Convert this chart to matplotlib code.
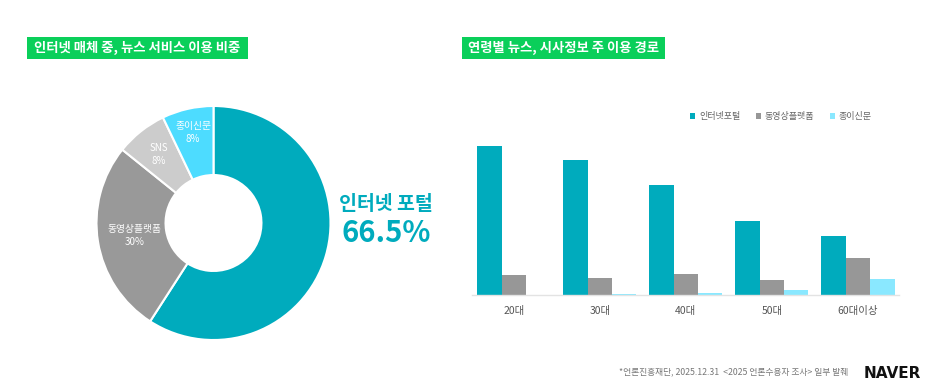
import matplotlib
matplotlib.use('Agg')
import matplotlib.pyplot as plt
import matplotlib.patches as patches
import numpy as np

plt.rcParams['font.family'] = ['Noto Sans CJK KR', 'DejaVu Sans']

# pie data
pie_labels = ['인터넷 포털', '동영상플랫폼', 'SNS', '종이신문']
pie_values = [66.5, 30, 8, 8]
pie_texts = ['', '동영상플랫폼\n30%', 'SNS\n8%', '종이신문\n8%']

# bar data
age_groups = ['20대', '30대', '40대', '50대', '60대이상']
series_names = ['인터넷포털', '동영상플랫폼', '종이신문']
portal = [74.5, 67.4, 54.9, 37.2, 29.5]
video = [10.0, 8.4, 10.5, 7.4, 18.4]
paper = [0.2, 0.3, 1.0, 2.5, 8.0]

W, H = 936, 390
fig = plt.figure(figsize=(W / 100, H / 100), dpi=100)
fig.patch.set_facecolor('white')

def fx(px):
    return px / W

def fy(py):
    return 1 - py / H

green = '#0ACF5A'
teal = '#00ABBD'

# title boxes
for x0, x1, title in [(27, 248, '인터넷 매체 중, 뉴스 서비스 이용 비중'),
                      (462, 665, '연령별 뉴스, 시사정보 주 이용 경로')]:
    fig.patches.append(patches.Rectangle((fx(x0), fy(59)), fx(x1 - x0), 22 / H,
                                         transform=fig.transFigure, facecolor=green,
                                         edgecolor='none'))
    fig.text(fx((x0 + x1) / 2), fy(48), title, ha='center', va='center',
             color='white', fontsize=9.6, fontweight='bold')

# donut
cx, cy, r = 213.5, 223, 117
ax_pie = fig.add_axes([fx(cx - r), fy(cy + r), fx(2 * r), 2 * r / H])
pie_colors = [teal, '#999999', '#CCCCCC', '#4DDCFF']
wedges, _ = ax_pie.pie(pie_values, colors=pie_colors, startangle=90, counterclock=False,
                       radius=1, wedgeprops=dict(width=0.59, edgecolor='white', linewidth=1.5))
ax_pie.set_xlim(-1, 1)
ax_pie.set_ylim(-1, 1)
label_dist = [0.7, 0.68, 0.75, 0.79]
for w, txt, d in zip(wedges, pie_texts, label_dist):
    if not txt:
        continue
    ang = np.deg2rad((w.theta1 + w.theta2) / 2)
    ax_pie.text(d * np.cos(ang), d * np.sin(ang), txt, ha='center', va='center',
                color='white', fontsize=7, linespacing=1.4)

fig.text(fx(386), fy(204), '인터넷 포털', ha='center', va='center', color=teal,
         fontsize=14, fontweight='bold')
fig.text(fx(386), fy(233), f'{pie_values[0]}%', ha='center', va='center', color=teal,
         fontsize=21, fontweight='bold')

# grouped bars
ax = fig.add_axes([fx(471.7), fy(295), fx(899.3 - 471.7), 155 / H])
x = np.arange(len(age_groups))
bw = 0.283
bar_colors = [teal, '#979797', '#8AE8FF']
for i, (vals, c, name) in enumerate(zip([portal, video, paper], bar_colors, series_names)):
    ax.bar(x + (i - 1) * bw, vals, bw, color=c, label=name, edgecolor='none')
ax.set_xlim(-0.49, 4.48)
ax.set_ylim(0, 77.5)
ax.set_xticks(x)
ax.set_xticklabels(age_groups, fontsize=7.5, color='#555555')
ax.tick_params(axis='x', length=0, pad=8)
ax.set_yticks([])
for s in ['top', 'right', 'left']:
    ax.spines[s].set_visible(False)
ax.spines['bottom'].set_color('#E3E3E3')
ax.spines['bottom'].set_linewidth(1)

leg = ax.legend(loc='center left', bbox_to_anchor=(fx(690), fy(117)),
                bbox_transform=fig.transFigure, ncol=3, frameon=False, fontsize=6.5,
                handlelength=0.6, handleheight=0.6, handletextpad=0.4,
                columnspacing=1.7, borderpad=0, borderaxespad=0)
for t in leg.get_texts():
    t.set_color('#666666')

# footer
fig.text(fx(848), fy(372), '*언론진흥재단, 2025.12.31  <2025 언론수용자 조사> 일부 발췌',
         ha='right', va='center', color='#777777', fontsize=6.3)
fig.text(fx(921), fy(374), 'NAVER', ha='right', va='center', color='#111111',
         fontsize=11, fontweight='heavy', family='DejaVu Sans')

fig.savefig('out.png', dpi=100, facecolor='white')
